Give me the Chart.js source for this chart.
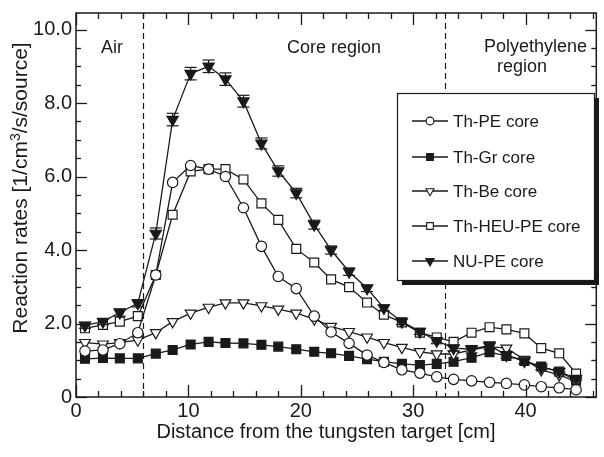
<!DOCTYPE html>
<html>
<head>
<meta charset="utf-8">
<script src="https://cdn.jsdelivr.net/npm/chart.js@4.4.1/dist/chart.umd.min.js"></script>
<style>
html, body { margin: 0; padding: 0; background: #fff; overflow: hidden; }
#wrap { width: 604px; height: 457px; position: relative; }
</style>
</head>
<body>
<div id="wrap"><canvas id="chart"></canvas></div>
<script>
// distance of each foil from the target [cm]
const positions = [0.8, 2.4, 3.9, 5.5, 7.1, 8.6, 10.2, 11.8, 13.3, 14.9, 16.5, 18.0, 19.6, 21.2, 22.7,
    24.3, 25.9, 27.4, 29.0, 30.6, 32.1, 33.6, 35.2, 36.8, 38.3, 39.9, 41.4, 43.0, 44.5];

const thPE = [1.25, 1.28, 1.45, 1.75, 3.32, 5.84, 6.30, 6.20, 6.00, 5.15, 4.10, 3.28, 2.95, 2.20, 1.77,
    1.46, 1.14, 0.94, 0.74, 0.65, 0.55, 0.48, 0.44, 0.40, 0.37, 0.33, 0.28, 0.25, 0.20];
const thGr = [1.04, 1.06, 1.05, 1.05, 1.18, 1.28, 1.43, 1.50, 1.47, 1.46, 1.42, 1.37, 1.30, 1.23, 1.19,
    1.12, 1.03, 0.96, 0.90, 0.87, 0.90, 0.96, 1.07, 1.22, 1.12, 0.98, 0.83, 0.69, 0.45];
const thBe = [1.48, 1.44, 1.48, 1.55, 1.75, 2.05, 2.28, 2.44, 2.56, 2.56, 2.48, 2.39, 2.28, 2.12, 1.92,
    1.78, 1.63, 1.48, 1.35, 1.23, 1.17, 1.17, 1.28, 1.37, 1.33, 1.02, 0.74, 0.60, 0.42];
const thHEU = [1.87, 1.96, 2.05, 2.20, 3.32, 4.96, 6.14, 6.20, 6.20, 5.92, 5.27, 4.82, 4.03, 3.66, 3.20,
    2.99, 2.57, 2.24, 2.03, 1.75, 1.62, 1.50, 1.75, 1.90, 1.84, 1.73, 1.33, 1.19, 0.64];
const nuPE = [1.95, 2.05, 2.30, 2.55, 4.45, 7.55, 8.80, 9.00, 8.65, 8.05, 6.90, 6.15, 5.55, 4.69, 4.00,
    3.41, 2.96, 2.42, 2.05, 1.78, 1.53, 1.33, 1.30, 1.40, 1.14, 0.98, 0.81, 0.69, 0.50];
const nuPEErr = [0.08, 0.08, 0.10, 0.10, 0.15, 0.17, 0.17, 0.17, 0.17, 0.16, 0.15, 0.14, 0.13, 0.12, 0.11,
    0.10, 0.09, 0.08, 0.08, 0.08, 0.08, 0.08, 0.10, 0.10, 0.08, 0.07, 0.07, 0.06, 0.05];

const xTicks = [0, 10, 20, 30, 40];
const yTicks = [0, 2, 4, 6, 8, 10];
const boundaries = [6.0, 32.8];

const INK = '#1a1a1a';
const FONT = '"Liberation Sans", Arial, sans-serif';

function pts(values) {
    return values.map((v, i) => ({ x: positions[i], y: v }));
}

function series(label, values, style, fill, radius, rotation) {
    return {
        label: label,
        data: pts(values),
        borderColor: INK,
        borderWidth: 1.3,
        pointStyle: style,
        pointRotation: rotation || 0,
        pointRadius: radius,
        pointBackgroundColor: fill,
        pointBorderColor: INK,
        pointBorderWidth: 1.2,
        tension: 0
    };
}

const datasets = [
    series('NU-PE core', nuPE, 'triangle', INK, 6.5, 180),
    series('Th-PE core', thPE, 'circle', '#fff', 5.2),
    series('Th-HEU-PE core', thHEU, 'rect', '#fff', 6.3),
    series('Th-Be core', thBe, 'triangle', '#fff', 6.2, 180),
    series('Th-Gr core', thGr, 'rect', INK, 6.3)
];
const legendOrder = ['Th-PE core', 'Th-Gr core', 'Th-Be core', 'Th-HEU-PE core', 'NU-PE core'];

function line(ctx, x1, y1, x2, y2) {
    ctx.beginPath();
    ctx.moveTo(x1, y1);
    ctx.lineTo(x2, y2);
    ctx.stroke();
}

function drawFrame(chart) {
    const { ctx, chartArea: a } = chart;
    const x = chart.scales.x, y = chart.scales.y;
    ctx.save();
    ctx.setLineDash([]);
    ctx.strokeStyle = INK;
    ctx.lineWidth = 1.5;
    ctx.strokeRect(a.left, a.top, a.right - a.left, a.bottom - a.top);
    ctx.lineWidth = 1.3;
    // minor ticks every 2 cm, long ones at each label
    for (let i = 0; i <= 23; i++) {
        const v = i * 2;
        const px = Math.round(x.getPixelForValue(v)) + 0.5;
        const len = v % 10 === 0 ? 12 : 6;
        line(ctx, px, a.bottom, px, a.bottom - len);
        line(ctx, px, a.top, px, a.top + len);
    }
    // minor ticks every 0.5, long ones at each label
    for (let i = 0; i <= 20; i++) {
        const v = i * 0.5;
        const py = Math.round(y.getPixelForValue(v)) + 0.5;
        const len = i % 4 === 0 ? 11 : 5;
        line(ctx, a.left, py, a.left + len, py);
        line(ctx, a.right, py, a.right - len, py);
    }
    ctx.restore();
}

const decorations = {
    id: 'decorations',
    beforeDatasetsDraw(chart) {
        const { ctx, chartArea: a } = chart;
        const x = chart.scales.x;
        ctx.save();
        ctx.strokeStyle = INK;
        ctx.lineWidth = 1.2;
        ctx.setLineDash([6, 4]);
        for (const b of boundaries) {
            const px = Math.round(x.getPixelForValue(b)) + 0.5;
            line(ctx, px, a.top, px, a.bottom);
        }
        ctx.restore();
    },
    afterDatasetsDraw(chart) {
        const { ctx } = chart;
        const y = chart.scales.y;
        const ds = chart.data.datasets[0];
        const meta = chart.getDatasetMeta(0);
        // error bars on the NU-PE points
        ctx.save();
        ctx.strokeStyle = INK;
        ctx.lineWidth = 1.2;
        meta.data.forEach((p, i) => {
            const v = ds.data[i].y;
            const top = y.getPixelForValue(v + nuPEErr[i]);
            const bot = y.getPixelForValue(v - nuPEErr[i]);
            line(ctx, p.x, top, p.x, bot);
            line(ctx, p.x - 6, top, p.x + 6, top);
            line(ctx, p.x - 6, bot, p.x + 6, bot);
        });
        ctx.restore();
    },
    afterDraw(chart) {
        const { ctx } = chart;
        drawFrame(chart);

        ctx.save();
        ctx.fillStyle = INK;

        // region names
        ctx.font = '18px ' + FONT;
        ctx.textBaseline = 'middle';
        ctx.textAlign = 'left';
        ctx.fillText('Air', 101, 48);
        ctx.fillText('Core region', 287, 48);
        ctx.fillText('Polyethylene', 484, 47);
        ctx.fillText('region', 497, 67);

        // axis titles
        ctx.font = '20px ' + FONT;
        ctx.textAlign = 'center';
        ctx.fillText('Distance from the tungsten target [cm]', 326, 432);

        ctx.translate(20, 188);
        ctx.rotate(-Math.PI / 2);
        ctx.textAlign = 'left';
        ctx.textBaseline = 'alphabetic';
        const big = '21px ' + FONT, small = '14px ' + FONT;
        const p1 = 'Reaction rates [1/cm', p2 = '3', p3 = '/s/source]';
        ctx.font = big;
        const w1 = ctx.measureText(p1).width, w3 = ctx.measureText(p3).width;
        ctx.font = small;
        const w2 = ctx.measureText(p2).width;
        let tx = -(w1 + w2 + w3) / 2;
        ctx.font = big;
        ctx.fillText(p1, tx, 7);
        tx += w1;
        ctx.font = small;
        ctx.fillText(p2, tx, 0);
        tx += w2;
        ctx.font = big;
        ctx.fillText(p3, tx, 7);
        ctx.restore();

        // legend box with drop shadow
        ctx.save();
        const bx = 397, by = 93, bw = 197, bh = 187;
        ctx.fillStyle = INK;
        ctx.fillRect(bx + 5, by + 5, bw, bh);
        ctx.fillStyle = '#fff';
        ctx.fillRect(bx, by, bw, bh);
        ctx.strokeStyle = INK;
        ctx.lineWidth = 1.2;
        ctx.strokeRect(bx + 0.5, by + 0.5, bw, bh);
        const rows = [121, 157, 191, 226, 261];
        ctx.font = '17px ' + FONT;
        ctx.textBaseline = 'middle';
        legendOrder.forEach((name, i) => {
            const ds = chart.data.datasets.find(d => d.label === name);
            const yy = rows[i];
            ctx.strokeStyle = INK;
            ctx.lineWidth = 1.3;
            line(ctx, 412, yy, 448, yy);
            ctx.fillStyle = ds.pointBackgroundColor;
            ctx.strokeStyle = INK;
            ctx.lineWidth = 1.1;
            Chart.helpers.drawPoint(ctx, {
                pointStyle: ds.pointStyle,
                rotation: ds.pointRotation,
                radius: ds.pointRadius * 0.75,
                borderWidth: 1.1
            }, 430, yy);
            ctx.fillStyle = INK;
            ctx.fillText(name, 453, yy + 1);
        });
        ctx.restore();
    }
};

new Chart(document.getElementById('chart'), {
    type: 'line',
    data: { datasets: datasets },
    options: {
        responsive: true,
        maintainAspectRatio: false,
        animation: false,
        layout: { padding: { top: 13, right: 0, left: 0, bottom: 0 } },
        plugins: {
            legend: { display: false },
            tooltip: { enabled: false }
        },
        scales: {
            x: {
                type: 'linear',
                min: 0,
                max: 46.3,
                border: { display: false },
                grid: { display: false, drawTicks: false },
                afterBuildTicks: s => { s.ticks = xTicks.map(v => ({ value: v })); },
                afterFit: s => {
                    s.height = 60;
                    s.paddingLeft = 0;
                    s.paddingRight = 0;
                },
                ticks: {
                    color: INK,
                    padding: 2,
                    maxRotation: 0,
                    font: { family: FONT, size: 20 },
                    callback: v => String(v)
                }
            },
            y: {
                min: 0,
                max: 10.45,
                border: { display: false },
                grid: { display: false, drawTicks: false },
                afterBuildTicks: s => { s.ticks = yTicks.map(v => ({ value: v })); },
                afterFit: s => {
                    s.width = 76;
                    s.paddingTop = 0;
                    s.paddingBottom = 0;
                },
                ticks: {
                    color: INK,
                    padding: 4,
                    font: { family: FONT, size: 20 },
                    callback: v => v === 0 ? '0' : v.toFixed(1)
                }
            }
        }
    },
    plugins: [decorations]
});
</script>
</body>
</html>
